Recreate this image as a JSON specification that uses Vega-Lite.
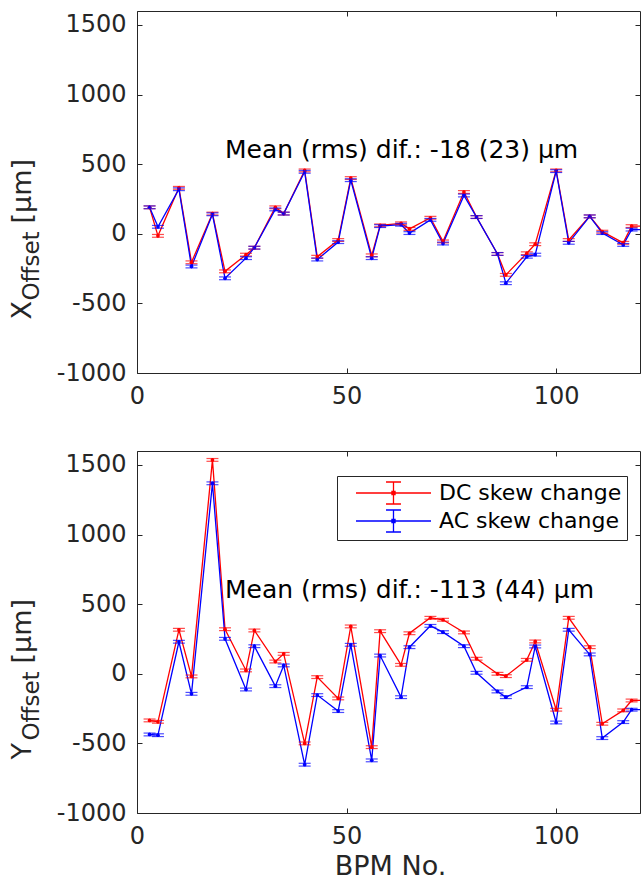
{
  "$schema": "https://vega.github.io/schema/vega-lite/v6.json",
  "padding": {"left": 7, "top": 10, "right": 0, "bottom": 6},
  "config": {
    "font": "DejaVu Sans",
    "view": {"stroke": "#262626", "strokeWidth": 1},
    "axis": {"grid": false, "domain": false, "labelFlush": false, "tickColor": "#262626", "labelColor": "#262626", "titleColor": "#262626", "titleFontWeight": "normal", "labelFont": "DejaVu Sans", "titleFont": "DejaVu Sans"}
  },
  "datasets": {
    "xd": [
      {"bpm": 3, "series": "DC skew change", "value": 190, "err": 10},
      {"bpm": 5, "series": "DC skew change", "value": -15, "err": 10},
      {"bpm": 10, "series": "DC skew change", "value": 330, "err": 10},
      {"bpm": 13, "series": "DC skew change", "value": -205, "err": 10},
      {"bpm": 18, "series": "DC skew change", "value": 145, "err": 10},
      {"bpm": 21, "series": "DC skew change", "value": -270, "err": 10},
      {"bpm": 26, "series": "DC skew change", "value": -150, "err": 10},
      {"bpm": 28, "series": "DC skew change", "value": -100, "err": 10},
      {"bpm": 33, "series": "DC skew change", "value": 190, "err": 10},
      {"bpm": 35, "series": "DC skew change", "value": 145, "err": 10},
      {"bpm": 40, "series": "DC skew change", "value": 455, "err": 10},
      {"bpm": 43, "series": "DC skew change", "value": -165, "err": 10},
      {"bpm": 48, "series": "DC skew change", "value": -45, "err": 10},
      {"bpm": 51, "series": "DC skew change", "value": 400, "err": 10},
      {"bpm": 56, "series": "DC skew change", "value": -155, "err": 10},
      {"bpm": 58, "series": "DC skew change", "value": 60, "err": 10},
      {"bpm": 63, "series": "DC skew change", "value": 75, "err": 10},
      {"bpm": 65, "series": "DC skew change", "value": 35, "err": 10},
      {"bpm": 70, "series": "DC skew change", "value": 115, "err": 10},
      {"bpm": 73, "series": "DC skew change", "value": -55, "err": 10},
      {"bpm": 78, "series": "DC skew change", "value": 300, "err": 10},
      {"bpm": 81, "series": "DC skew change", "value": 120, "err": 10},
      {"bpm": 86, "series": "DC skew change", "value": -145, "err": 10},
      {"bpm": 88, "series": "DC skew change", "value": -295, "err": 10},
      {"bpm": 93, "series": "DC skew change", "value": -140, "err": 10},
      {"bpm": 95, "series": "DC skew change", "value": -75, "err": 10},
      {"bpm": 100, "series": "DC skew change", "value": 455, "err": 10},
      {"bpm": 103, "series": "DC skew change", "value": -45, "err": 10},
      {"bpm": 108, "series": "DC skew change", "value": 125, "err": 10},
      {"bpm": 111, "series": "DC skew change", "value": 15, "err": 10},
      {"bpm": 116, "series": "DC skew change", "value": -65, "err": 10},
      {"bpm": 118, "series": "DC skew change", "value": 55, "err": 10},
      {"bpm": 123, "series": "DC skew change", "value": 55, "err": 10},
      {"bpm": 3, "series": "AC skew change", "value": 190, "err": 10},
      {"bpm": 5, "series": "AC skew change", "value": 50, "err": 10},
      {"bpm": 10, "series": "AC skew change", "value": 320, "err": 10},
      {"bpm": 13, "series": "AC skew change", "value": -235, "err": 10},
      {"bpm": 18, "series": "AC skew change", "value": 140, "err": 10},
      {"bpm": 21, "series": "AC skew change", "value": -320, "err": 10},
      {"bpm": 26, "series": "AC skew change", "value": -175, "err": 10},
      {"bpm": 28, "series": "AC skew change", "value": -100, "err": 10},
      {"bpm": 33, "series": "AC skew change", "value": 175, "err": 10},
      {"bpm": 35, "series": "AC skew change", "value": 145, "err": 10},
      {"bpm": 40, "series": "AC skew change", "value": 445, "err": 10},
      {"bpm": 43, "series": "AC skew change", "value": -185, "err": 10},
      {"bpm": 48, "series": "AC skew change", "value": -60, "err": 10},
      {"bpm": 51, "series": "AC skew change", "value": 385, "err": 10},
      {"bpm": 56, "series": "AC skew change", "value": -175, "err": 10},
      {"bpm": 58, "series": "AC skew change", "value": 55, "err": 10},
      {"bpm": 63, "series": "AC skew change", "value": 65, "err": 10},
      {"bpm": 65, "series": "AC skew change", "value": 5, "err": 10},
      {"bpm": 70, "series": "AC skew change", "value": 100, "err": 10},
      {"bpm": 73, "series": "AC skew change", "value": -70, "err": 10},
      {"bpm": 78, "series": "AC skew change", "value": 275, "err": 10},
      {"bpm": 81, "series": "AC skew change", "value": 120, "err": 10},
      {"bpm": 86, "series": "AC skew change", "value": -145, "err": 10},
      {"bpm": 88, "series": "AC skew change", "value": -355, "err": 10},
      {"bpm": 93, "series": "AC skew change", "value": -165, "err": 10},
      {"bpm": 95, "series": "AC skew change", "value": -150, "err": 10},
      {"bpm": 100, "series": "AC skew change", "value": 450, "err": 10},
      {"bpm": 103, "series": "AC skew change", "value": -65, "err": 10},
      {"bpm": 108, "series": "AC skew change", "value": 125, "err": 10},
      {"bpm": 111, "series": "AC skew change", "value": 5, "err": 10},
      {"bpm": 116, "series": "AC skew change", "value": -80, "err": 10},
      {"bpm": 118, "series": "AC skew change", "value": 30, "err": 10},
      {"bpm": 123, "series": "AC skew change", "value": 30, "err": 10}
    ],
    "yd": [
      {"bpm": 3, "series": "DC skew change", "value": -335, "err": 10},
      {"bpm": 5, "series": "DC skew change", "value": -345, "err": 10},
      {"bpm": 10, "series": "DC skew change", "value": 316, "err": 10},
      {"bpm": 13, "series": "DC skew change", "value": -19, "err": 10},
      {"bpm": 18, "series": "DC skew change", "value": 1536, "err": 10},
      {"bpm": 21, "series": "DC skew change", "value": 320, "err": 10},
      {"bpm": 26, "series": "DC skew change", "value": 24, "err": 10},
      {"bpm": 28, "series": "DC skew change", "value": 311, "err": 10},
      {"bpm": 33, "series": "DC skew change", "value": 88, "err": 10},
      {"bpm": 35, "series": "DC skew change", "value": 143, "err": 10},
      {"bpm": 40, "series": "DC skew change", "value": -500, "err": 10},
      {"bpm": 43, "series": "DC skew change", "value": -24, "err": 10},
      {"bpm": 48, "series": "DC skew change", "value": -177, "err": 10},
      {"bpm": 51, "series": "DC skew change", "value": 340, "err": 10},
      {"bpm": 56, "series": "DC skew change", "value": -527, "err": 10},
      {"bpm": 58, "series": "DC skew change", "value": 306, "err": 10},
      {"bpm": 63, "series": "DC skew change", "value": 64, "err": 10},
      {"bpm": 65, "series": "DC skew change", "value": 291, "err": 10},
      {"bpm": 70, "series": "DC skew change", "value": 402, "err": 10},
      {"bpm": 73, "series": "DC skew change", "value": 388, "err": 10},
      {"bpm": 78, "series": "DC skew change", "value": 297, "err": 10},
      {"bpm": 81, "series": "DC skew change", "value": 108, "err": 10},
      {"bpm": 86, "series": "DC skew change", "value": 0, "err": 10},
      {"bpm": 88, "series": "DC skew change", "value": -17, "err": 10},
      {"bpm": 93, "series": "DC skew change", "value": 100, "err": 10},
      {"bpm": 95, "series": "DC skew change", "value": 232, "err": 10},
      {"bpm": 100, "series": "DC skew change", "value": -258, "err": 10},
      {"bpm": 103, "series": "DC skew change", "value": 402, "err": 10},
      {"bpm": 108, "series": "DC skew change", "value": 191, "err": 10},
      {"bpm": 111, "series": "DC skew change", "value": -359, "err": 10},
      {"bpm": 116, "series": "DC skew change", "value": -263, "err": 10},
      {"bpm": 118, "series": "DC skew change", "value": -192, "err": 10},
      {"bpm": 123, "series": "DC skew change", "value": -190, "err": 10},
      {"bpm": 3, "series": "AC skew change", "value": -436, "err": 10},
      {"bpm": 5, "series": "AC skew change", "value": -441, "err": 10},
      {"bpm": 10, "series": "AC skew change", "value": 230, "err": 10},
      {"bpm": 13, "series": "AC skew change", "value": -144, "err": 10},
      {"bpm": 18, "series": "AC skew change", "value": 1368, "err": 10},
      {"bpm": 21, "series": "AC skew change", "value": 251, "err": 10},
      {"bpm": 26, "series": "AC skew change", "value": -113, "err": 10},
      {"bpm": 28, "series": "AC skew change", "value": 198, "err": 10},
      {"bpm": 33, "series": "AC skew change", "value": -89, "err": 10},
      {"bpm": 35, "series": "AC skew change", "value": 60, "err": 10},
      {"bpm": 40, "series": "AC skew change", "value": -653, "err": 10},
      {"bpm": 43, "series": "AC skew change", "value": -153, "err": 10},
      {"bpm": 48, "series": "AC skew change", "value": -268, "err": 10},
      {"bpm": 51, "series": "AC skew change", "value": 208, "err": 10},
      {"bpm": 56, "series": "AC skew change", "value": -622, "err": 10},
      {"bpm": 58, "series": "AC skew change", "value": 131, "err": 10},
      {"bpm": 63, "series": "AC skew change", "value": -168, "err": 10},
      {"bpm": 65, "series": "AC skew change", "value": 191, "err": 10},
      {"bpm": 70, "series": "AC skew change", "value": 344, "err": 10},
      {"bpm": 73, "series": "AC skew change", "value": 299, "err": 10},
      {"bpm": 78, "series": "AC skew change", "value": 198, "err": 10},
      {"bpm": 81, "series": "AC skew change", "value": 7, "err": 10},
      {"bpm": 86, "series": "AC skew change", "value": -127, "err": 10},
      {"bpm": 88, "series": "AC skew change", "value": -168, "err": 10},
      {"bpm": 93, "series": "AC skew change", "value": -96, "err": 10},
      {"bpm": 95, "series": "AC skew change", "value": 196, "err": 10},
      {"bpm": 100, "series": "AC skew change", "value": -350, "err": 10},
      {"bpm": 103, "series": "AC skew change", "value": 316, "err": 10},
      {"bpm": 108, "series": "AC skew change", "value": 139, "err": 10},
      {"bpm": 111, "series": "AC skew change", "value": -462, "err": 10},
      {"bpm": 116, "series": "AC skew change", "value": -347, "err": 10},
      {"bpm": 118, "series": "AC skew change", "value": -258, "err": 10},
      {"bpm": 123, "series": "AC skew change", "value": -258, "err": 10}
    ]
  },
  "spacing": 78,
  "bounds": "flush",
  "resolve": {"scale": {"color": "independent"}, "legend": {"color": "independent"}},
  "vconcat": [
    {
      "width": 503,
      "height": 362,
      "data": {"name": "xd"},
      "layer": [
        {
          "mark": {"type": "line", "strokeWidth": 1.3, "clip": true, "point": {"filled": true, "size": 14, "clip": true}},
          "encoding": {
            "x": {"field": "bpm", "type": "quantitative", "scale": {"domain": [0, 120], "nice": false, "zero": false},
              "axis": {"orient": "bottom", "values": [0, 50, 100], "labelExpr": "toString(datum.value)", "labelFontSize": 24, "tickSize": -5, "labelPadding": 16, "title": null}},
            "y": {"field": "value", "type": "quantitative", "scale": {"domain": [-1000, 1600], "nice": false, "zero": false},
              "axis": {"orient": "left", "values": [-1000, -500, 0, 500, 1000, 1500], "labelExpr": "toString(datum.value)", "labelFontSize": 24, "tickSize": -5, "labelPadding": 16,
                "title": "X", "titleFontSize": 27, "titleAngle": -90, "titleAlign": "left", "titleBaseline": "alphabetic", "titleX": -106.7, "titleY": 308}},
            "color": {"field": "series", "type": "nominal", "scale": {"domain": ["DC skew change", "AC skew change"], "range": ["#ff0000", "#0000ff"]}, "legend": null}
          }
        },
        {
          "mark": {"type": "errorbar", "ticks": {"size": 12}, "thickness": 1.2, "clip": true},
          "encoding": {
            "x": {"field": "bpm", "type": "quantitative", "axis": null},
            "y": {"field": "value", "type": "quantitative",
              "axis": {"orient": "right", "values": [-1000, -500, 0, 500, 1000, 1500], "labels": false, "tickSize": -5,
                "title": "[μm]", "titleFontSize": 27, "titleAngle": -90, "titleAlign": "left", "titleBaseline": "alphabetic", "titleX": -609.7, "titleY": 212}},
            "yError": {"field": "err"},
            "color": {"field": "series", "type": "nominal", "legend": null}
          }
        },
        {
          "data": {"values": [{"bpm": 21, "value": 600, "label": "Mean (rms) dif.: -18 (23) μm"}]},
          "mark": {"type": "text", "align": "left", "baseline": "middle", "fontSize": 25, "color": "#000000"},
          "encoding": {
            "x": {"field": "bpm", "type": "quantitative", "axis": {"orient": "top", "values": [0, 50, 100], "labels": false, "tickSize": -5, "title": null}},
            "y": {"field": "value", "type": "quantitative",
              "axis": {"orient": "left", "labels": false, "ticks": false, "title": "Offset", "titleFontSize": 23, "titleAngle": -90, "titleAlign": "left", "titleBaseline": "alphabetic", "titleX": -98.3, "titleY": 289}},
            "text": {"field": "label"}
          }
        }
      ],
      "resolve": {"axis": {"x": "independent", "y": "independent"}}
    },
    {
      "width": 503,
      "height": 362,
      "data": {"name": "yd"},
      "layer": [
        {
          "mark": {"type": "line", "strokeWidth": 1.3, "clip": true, "point": {"filled": true, "size": 14, "clip": true}},
          "encoding": {
            "x": {"field": "bpm", "type": "quantitative", "scale": {"domain": [0, 120], "nice": false, "zero": false},
              "axis": {"orient": "bottom", "values": [0, 50, 100], "labelExpr": "toString(datum.value)", "labelFontSize": 24, "tickSize": -5, "labelPadding": 16,
                "title": "BPM No.", "titleFontSize": 27, "titleBaseline": "alphabetic", "titleX": 253, "titleY": 61.7}},
            "y": {"field": "value", "type": "quantitative", "scale": {"domain": [-1000, 1600], "nice": false, "zero": false},
              "axis": {"orient": "left", "values": [-1000, -500, 0, 500, 1000, 1500], "labelExpr": "toString(datum.value)", "labelFontSize": 24, "tickSize": -5, "labelPadding": 16,
                "title": "Y", "titleFontSize": 27, "titleAngle": -90, "titleAlign": "left", "titleBaseline": "alphabetic", "titleX": -106.7, "titleY": 308}},
            "color": {"field": "series", "type": "nominal", "scale": {"domain": ["DC skew change", "AC skew change"], "range": ["#ff0000", "#0000ff"]},
              "legend": {"orient": "none", "legendX": 200, "legendY": 25, "title": null, "labelFontSize": 22, "labelColor": "#000000", "labelLimit": 400,
                "symbolType": "M0.18,0H7M3.59,-1V1M2.91,-1H4.27M2.91,1H4.27M3.45,-0.14H3.73V0.14H3.45Z",
                "symbolSize": 484, "symbolStrokeWidth": 1.3, "labelOffset": 73, "strokeColor": "#262626", "fillColor": "#ffffff", "padding": 5, "rowPadding": 0}}
          }
        },
        {
          "mark": {"type": "errorbar", "ticks": {"size": 12}, "thickness": 1.2, "clip": true},
          "encoding": {
            "x": {"field": "bpm", "type": "quantitative", "axis": null},
            "y": {"field": "value", "type": "quantitative",
              "axis": {"orient": "right", "values": [-1000, -500, 0, 500, 1000, 1500], "labels": false, "tickSize": -5,
                "title": "[μm]", "titleFontSize": 27, "titleAngle": -90, "titleAlign": "left", "titleBaseline": "alphabetic", "titleX": -609.7, "titleY": 212}},
            "yError": {"field": "err"},
            "color": {"field": "series", "type": "nominal"}
          }
        },
        {
          "data": {"values": [{"bpm": 21, "value": 600, "label": "Mean (rms) dif.: -113 (44) μm"}]},
          "mark": {"type": "text", "align": "left", "baseline": "middle", "fontSize": 25, "color": "#000000"},
          "encoding": {
            "x": {"field": "bpm", "type": "quantitative", "axis": {"orient": "top", "values": [0, 50, 100], "labels": false, "tickSize": -5, "title": null}},
            "y": {"field": "value", "type": "quantitative",
              "axis": {"orient": "left", "labels": false, "ticks": false, "title": "Offset", "titleFontSize": 23, "titleAngle": -90, "titleAlign": "left", "titleBaseline": "alphabetic", "titleX": -98.3, "titleY": 289}},
            "text": {"field": "label"}
          }
        }
      ],
      "resolve": {"axis": {"x": "independent", "y": "independent"}}
    }
  ]
}
